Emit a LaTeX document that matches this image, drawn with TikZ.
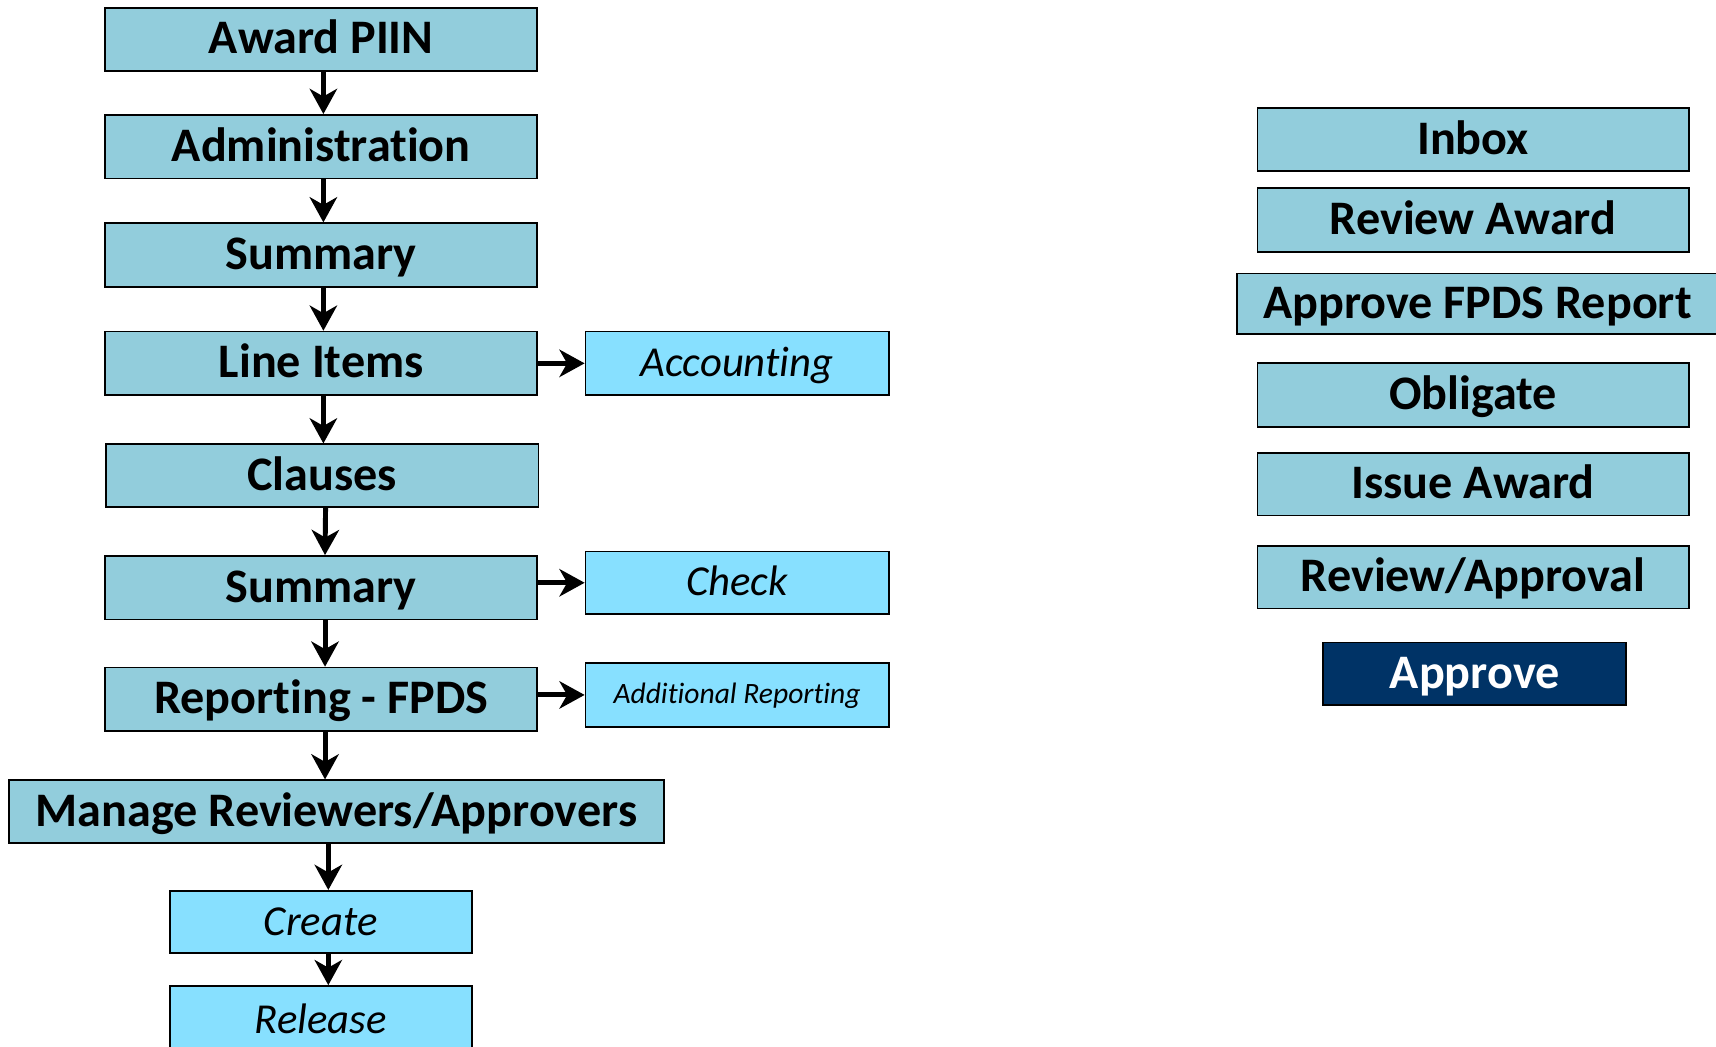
\documentclass[tikz,border=0pt]{standalone}
\usepackage{fontspec}
\setmainfont{Carlito}[RawFeature=-liga]
\usetikzlibrary{arrows.meta}
\definecolor{mainfill}{RGB}{146,205,220}
\definecolor{subfill}{RGB}{135,224,255}
\definecolor{navy}{RGB}{0,51,102}
\tikzset{
  mainbox/.style={draw=black, line width=1.6pt, fill=mainfill, inner sep=0pt,
    font=\fontsize{44}{52}\selectfont\bfseries, text height=26.5pt, text depth=0pt},
  subbox/.style={draw=black, line width=1.6pt, fill=subfill, inner sep=0pt,
    font=\fontsize{39}{46}\selectfont\itshape, text height=24pt, text depth=0pt},
  smallsub/.style={subbox, font=\fontsize{27}{32}\selectfont\itshape, text height=16pt},
  darkbox/.style={draw=black, line width=1.6pt, fill=navy, text=white, inner sep=0pt,
    font=\fontsize{44}{52}\selectfont\bfseries, text height=26.5pt, text depth=0pt},
  arr/.style={line width=4.5pt, -{Stealth[length=23pt,width=25pt,inset=7pt]}}
}
\begin{document}
\begin{tikzpicture}[x=1pt,y=-1pt]
\useasboundingbox (0,0) rectangle (1568,956);
% left column
\node[mainbox, minimum width=395pt, minimum height=58pt] (award) at (293.5,36) {Award PIIN};
\node[mainbox, minimum width=395pt, minimum height=58pt] (admin) at (293.5,134) {Administration};
\node[mainbox, minimum width=395pt, minimum height=58pt] (sum1) at (293.5,233) {Summary};
\node[mainbox, minimum width=395pt, minimum height=58pt] (line) at (293.5,332) {Line Items};
\node[subbox, minimum width=277pt, minimum height=58pt] (acct) at (673.5,332) {Accounting};
\node[mainbox, minimum width=395pt, minimum height=57pt] (clauses) at (294.5,434.5) {Clauses};
\node[mainbox, minimum width=395pt, minimum height=58pt] (sum2) at (293.5,537) {Summary};
\node[subbox, minimum width=277pt, minimum height=57pt] (check) at (673.5,532.5) {Check};
\node[mainbox, minimum width=395pt, minimum height=58pt] (rep) at (293.5,639) {Reporting - FPDS};
\node[smallsub, minimum width=277pt, minimum height=58pt] (addrep) at (673.5,635) {Additional Reporting};
\node[mainbox, minimum width=599pt, minimum height=57pt] (manage) at (307.5,741.5) {Manage Reviewers/Approvers};
\node[subbox, minimum width=276pt, minimum height=57pt] (create) at (293,842.5) {Create};
\node[subbox, minimum width=276pt, minimum height=62pt] (release) at (293,932) {Release};
% right column
\node[mainbox, minimum width=394pt, minimum height=57pt] (inbox) at (1346,127.5) {Inbox};
\node[mainbox, minimum width=394pt, minimum height=58pt] (revaward) at (1346,201) {Review Award};
\node[mainbox, minimum width=440pt, minimum height=55pt] (fpds) at (1350,277.5) {Approve FPDS Report};
\node[mainbox, minimum width=394pt, minimum height=58pt] (oblig) at (1346,361) {Obligate};
\node[mainbox, minimum width=394pt, minimum height=57pt] (issue) at (1346,442.5) {Issue Award};
\node[mainbox, minimum width=394pt, minimum height=57pt] (revappr) at (1346,527.5) {Review/Approval};
\node[darkbox, minimum width=277pt, minimum height=57pt] (approve) at (1347.5,615.5) {Approve};
% arrows
\draw[arr] ([xshift=2pt]award.south) -- ([xshift=2pt]admin.north);
\draw[arr] ([xshift=2pt]admin.south) -- ([xshift=2pt]sum1.north);
\draw[arr] ([xshift=2pt]sum1.south) -- ([xshift=2pt]line.north);
\draw[arr] ([xshift=2pt]line.south) -- ([xshift=1pt]clauses.north);
\draw[arr] ([xshift=3pt]clauses.south) -- ([xshift=3.5pt]sum2.north);
\draw[arr] ([xshift=3.5pt]sum2.south) -- ([xshift=3.5pt]rep.north);
\draw[arr] ([xshift=3.5pt]rep.south) -- ([xshift=-10.5pt]manage.north);
\draw[arr] ([xshift=-7.5pt]manage.south) -- ([xshift=7pt]create.north);
\draw[arr] ([xshift=7pt]create.south) -- ([xshift=7pt]release.north);
\draw[arr] (line.east) -- (acct.west);
\draw[arr] (sum2.east |- check.west) -- (check.west);
\draw[arr] (rep.east |- addrep.west) -- (addrep.west);
\end{tikzpicture}
\end{document}
